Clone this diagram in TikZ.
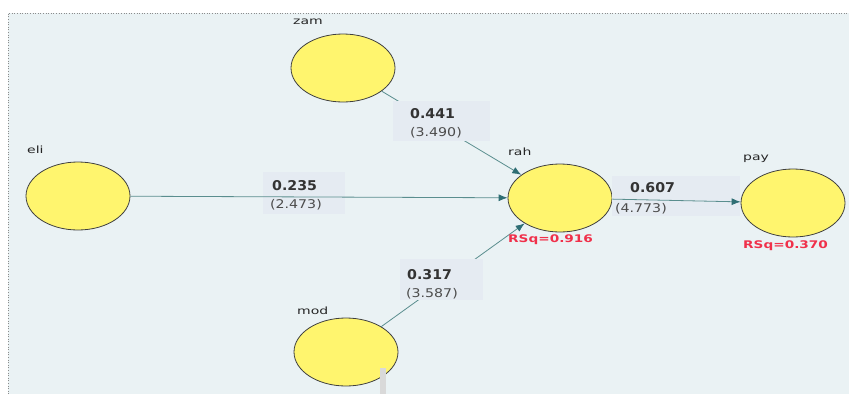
\documentclass[tikz,border=0pt]{standalone}
\usepackage{fontspec}
\setmainfont{DejaVu Sans}
\newfontfamily\namefont[FakeStretch=1.4]{DejaVu Sans}
\newfontfamily\coeffont[FakeStretch=1.05]{DejaVu Sans}
\newfontfamily\tvalfont[FakeStretch=1.18]{DejaVu Sans}
\newfontfamily\rsqfont[FakeStretch=1.3]{DejaVu Sans}
\usetikzlibrary{shapes.geometric,arrows.meta}
\definecolor{bgc}{HTML}{EAF2F4}
\definecolor{boxc}{HTML}{E5EBF2}
\definecolor{lv}{HTML}{FFF56E}
\definecolor{pathc}{HTML}{5A8E8E}
\definecolor{tipc}{HTML}{2F6E74}
\definecolor{rsq}{HTML}{F0304A}
\tikzset{
  lvar/.style={ellipse,draw=black!75,line width=0.8pt,fill=lv,minimum width=104pt,minimum height=68pt,inner sep=0pt},
  vname/.style={font=\namefont\fontsize{10}{11}\selectfont,text=black!85,anchor=west,inner sep=0pt},
  coef/.style={font=\coeffont\bfseries\fontsize{13.5}{14}\selectfont,text=black!80,anchor=west,inner sep=0pt},
  tval/.style={font=\tvalfont\fontsize{12}{13}\selectfont,text=black!70,anchor=west,inner sep=0pt},
  rsqt/.style={font=\rsqfont\bfseries\fontsize{10.5}{11}\selectfont,text=rsq,anchor=west,inner sep=0pt},
  arr/.style={draw=pathc,line width=0.8pt,-{Latex[length=9pt,width=7pt,color=tipc]}},
  lbox/.style={fill=boxc,draw=none},
}
\begin{document}
\begin{tikzpicture}[x=1pt,y=-1pt]
\useasboundingbox (0,0) rectangle (849,394);
\fill[white] (0,0) rectangle (849,394);
\fill[bgc] (8,13) rectangle (849,394);
\draw[black!45,dotted,line width=0.6pt] (8,394) -- (8,13) -- (849,13);
% latent variables
\node[lvar] (zam) at (343,68) {};
\node[lvar] (eli) at (78,196) {};
\node[lvar] (rah) at (560,198) {};
\node[lvar] (pay) at (793,203) {};
\node[lvar] (mod) at (346,352) {};
% diagonal paths (partly hidden by their label boxes)
\draw[arr] (zam) -- (rah);
\draw[arr] (mod) -- (rah);
% label boxes
\fill[lbox] (393,101) rectangle (490,141);
\fill[lbox] (263,172) rectangle (345,214);
\fill[lbox] (612,176) rectangle (740,216);
\fill[lbox] (400,259) rectangle (483,300);
% horizontal paths
\draw[arr] (eli) -- (rah);
\draw[arr] (rah) -- (pay);
\fill[black!15] (380,368) rectangle (386,394);
% names
\node[vname] (nzam) at (293,22) {zam};
\node[vname] (neli) at (27,150) {eli};
\node[vname] (nrah) at (508,152) {rah};
\node[vname] (npay) at (743,159) {pay};
\node[vname] (nmod) at (297,311) {mod};
\node[rsqt] (r1) at (508,240) {RSq=0.916};
\node[rsqt] (r2) at (743,246) {RSq=0.370};
% coefficients
\node[coef] (c1) at (410,114) {0.441};
\node[tval] (t1) at (410,133) {(3.490)};
\node[coef] (c2) at (272,186) {0.235};
\node[tval] (t2) at (270,205) {(2.473)};
\node[coef] (c3) at (630,188) {0.607};
\node[tval] (t3) at (615,209) {(4.773)};
\node[coef] (c4) at (407,275) {0.317};
\node[tval] (t4) at (406,294) {(3.587)};
\end{tikzpicture}
\end{document}
